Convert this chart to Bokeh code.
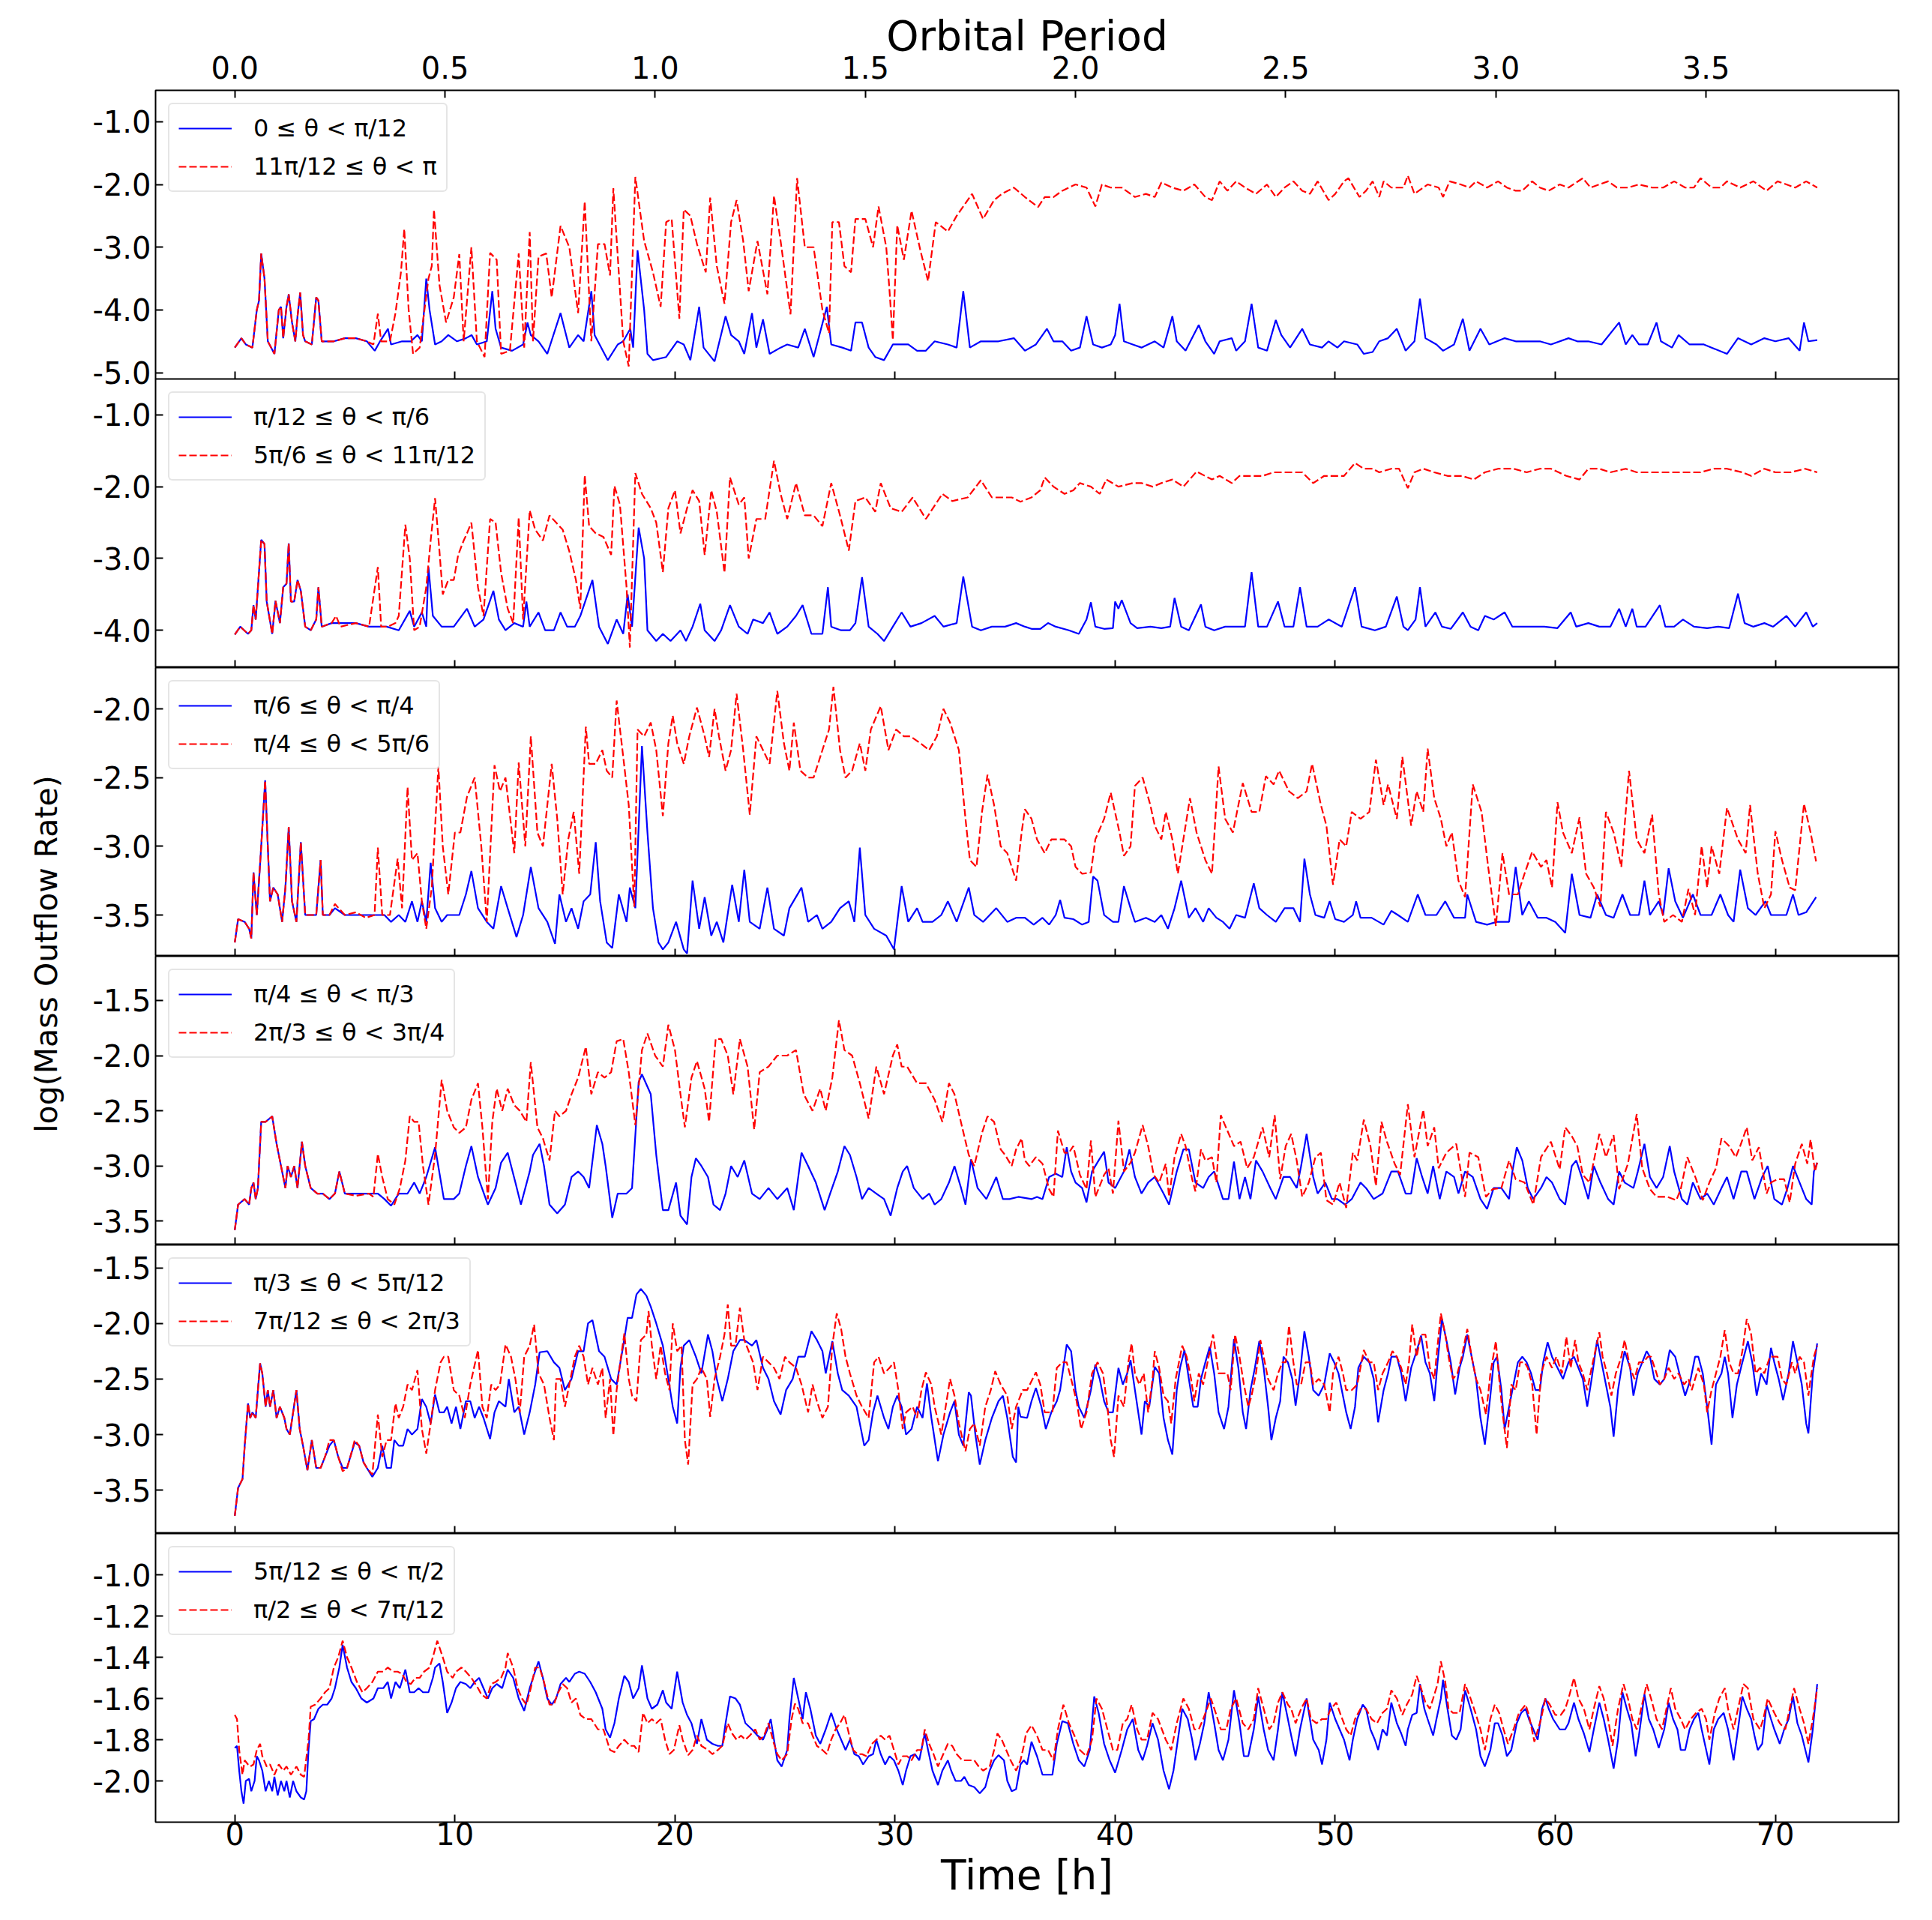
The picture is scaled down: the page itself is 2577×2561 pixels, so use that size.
import math
from bokeh.plotting import figure
from bokeh.models import (Range1d, LinearAxis, FixedTicker, PrintfTickFormatter,
                          Legend, LegendItem)
from bokeh.layouts import row, column
from bokeh.core.properties import value
from bokeh.embed import file_html
from bokeh.resources import INLINE

FONT = "DejaVu Sans"
PERIOD_H = 19.1          # hours per orbital period (top axis)
T_LO, T_HI = -3.6, 75.6  # time axis range [h]

# ---------------- data: (time [h], log10 mass outflow rate) ----------------
P1_BLUE = [(0,-4.6),(0.3,-4.45),(0.5,-4.55),(0.8,-4.6),(1.0,-4.0),(1.1,-3.85),(1.2,-3.1),(1.35,-3.5),(1.5,-4.5),(1.8,-4.7),(2.0,-4.0),(2.1,-3.95),(2.2,-4.45),(2.35,-3.95),(2.45,-3.75),(2.6,-4.2),(2.75,-4.5),(2.85,-4.1),(2.97,-3.72),(3.1,-4.4),(3.2,-4.5),(3.5,-4.55),(3.7,-3.8),(3.8,-3.85),(3.95,-4.5),(4.5,-4.5),(5.0,-4.45),(5.5,-4.45),(6.0,-4.5),(6.36,-4.65),(6.6,-4.5),(6.96,-4.3),(7.1,-4.55),(7.6,-4.5),(8.0,-4.5),(8.3,-4.4),(8.5,-4.5),(8.7,-3.5),(8.85,-4.0),(9.1,-4.55),(9.4,-4.5),(9.7,-4.4),(10.1,-4.5),(10.5,-4.45),(10.76,-4.4),(11.0,-4.55),(11.45,-4.5),(11.7,-3.7),(11.85,-4.3),(12.1,-4.6),(12.6,-4.65),(13.1,-4.55),(13.3,-4.2),(13.45,-4.4),(13.8,-4.5),(14.2,-4.7),(14.8,-4.05),(15.2,-4.6),(15.6,-4.4),(15.85,-4.5),(16.2,-3.7),(16.35,-4.4),(16.95,-4.8),(17.4,-4.55),(17.65,-4.5),(17.97,-4.3),(18.1,-4.6),(18.3,-3.05),(18.6,-4.0),(18.75,-4.7),(19.0,-4.8),(19.6,-4.75),(20.1,-4.5),(20.4,-4.55),(20.7,-4.8),(21.1,-3.95),(21.3,-4.6),(21.8,-4.82),(22.3,-4.1),(22.55,-4.4),(22.9,-4.5),(23.15,-4.7),(23.5,-4.05),(23.7,-4.6),(24.0,-4.15),(24.3,-4.7),(24.8,-4.6),(25.1,-4.55),(25.6,-4.6),(25.9,-4.3),(26.3,-4.75),(26.9,-3.95),(27.1,-4.55),(27.6,-4.6),(28.0,-4.65),(28.2,-4.2),(28.5,-4.2),(28.8,-4.6),(29.1,-4.75),(29.5,-4.8),(29.9,-4.55),(30.6,-4.55),(31.0,-4.65),(31.4,-4.65),(31.8,-4.5),(32.4,-4.55),(32.8,-4.6),(33.1,-3.7),(33.4,-4.6),(33.9,-4.5),(34.7,-4.5),(35.4,-4.45),(35.9,-4.65),(36.4,-4.55),(36.9,-4.3),(37.2,-4.5),(37.6,-4.5),(38.0,-4.65),(38.4,-4.6),(38.7,-4.1),(39.0,-4.55),(39.4,-4.6),(39.8,-4.55),(40.0,-4.4),(40.2,-3.9),(40.4,-4.5),(40.8,-4.55),(41.2,-4.6),(41.8,-4.5),(42.2,-4.6),(42.6,-4.1),(42.8,-4.5),(43.2,-4.65),(43.8,-4.24),(44.1,-4.5),(44.5,-4.7),(44.75,-4.5),(45.3,-4.45),(45.5,-4.65),(45.9,-4.5),(46.2,-3.9),(46.5,-4.6),(46.9,-4.65),(47.3,-4.16),(47.55,-4.4),(47.95,-4.6),(48.5,-4.3),(48.85,-4.55),(49.4,-4.6),(49.7,-4.5),(50.1,-4.6),(50.4,-4.5),(51.0,-4.55),(51.3,-4.7),(51.7,-4.67),(52.0,-4.5),(52.4,-4.45),(52.8,-4.3),(53.2,-4.65),(53.6,-4.5),(53.85,-3.82),(54.1,-4.45),(54.6,-4.55),(54.9,-4.65),(55.4,-4.55),(55.8,-4.14),(56.1,-4.65),(56.6,-4.3),(57.0,-4.55),(57.7,-4.45),(58.2,-4.5),(58.7,-4.5),(59.3,-4.5),(59.8,-4.55),(60.6,-4.45),(61.0,-4.5),(61.5,-4.5),(62.1,-4.55),(62.9,-4.2),(63.2,-4.55),(63.5,-4.4),(63.8,-4.55),(64.2,-4.55),(64.6,-4.2),(64.8,-4.5),(65.3,-4.6),(65.6,-4.4),(66.1,-4.55),(66.75,-4.55),(67.1,-4.6),(67.8,-4.7),(68.3,-4.45),(68.9,-4.55),(69.5,-4.45),(70.0,-4.5),(70.6,-4.45),(71.1,-4.65),(71.3,-4.2),(71.5,-4.5),(71.9,-4.48)]

P1_RED = [(0,-4.6),(0.3,-4.45),(0.5,-4.55),(0.8,-4.6),(1.0,-4.0),(1.1,-3.85),(1.2,-3.1),(1.35,-3.5),(1.5,-4.5),(1.8,-4.7),(2.0,-4.0),(2.1,-3.95),(2.2,-4.45),(2.35,-3.95),(2.45,-3.75),(2.6,-4.2),(2.75,-4.5),(2.85,-4.1),(2.97,-3.72),(3.1,-4.4),(3.2,-4.5),(3.5,-4.55),(3.7,-3.8),(3.8,-3.85),(3.95,-4.5),(4.5,-4.5),(5.0,-4.45),(5.5,-4.45),(6.0,-4.5),(6.3,-4.55),(6.5,-4.06),(6.65,-4.5),(7.05,-4.5),(7.3,-4.05),(7.55,-3.4),(7.7,-2.71),(7.9,-4.0),(8.1,-4.7),(8.4,-4.6),(8.8,-3.5),(8.95,-3.3),(9.05,-2.4),(9.3,-3.6),(9.6,-4.2),(9.95,-3.8),(10.2,-3.11),(10.4,-4.5),(10.75,-3.0),(11.0,-4.5),(11.35,-4.75),(11.6,-3.09),(11.9,-3.2),(12.1,-4.7),(12.5,-4.65),(12.9,-3.1),(13.15,-4.6),(13.4,-2.76),(13.55,-4.5),(13.8,-3.15),(14.15,-3.1),(14.4,-3.8),(14.8,-2.66),(15.2,-3.0),(15.6,-4.05),(15.9,-2.27),(16.2,-4.5),(16.5,-2.95),(16.8,-2.95),(17.05,-3.45),(17.2,-2.06),(17.65,-4.5),(17.9,-4.9),(18.2,-1.88),(18.6,-2.9),(19.0,-3.4),(19.35,-3.95),(19.6,-2.6),(19.85,-2.55),(20.2,-4.14),(20.4,-2.4),(20.7,-2.5),(21.0,-2.95),(21.4,-3.4),(21.6,-2.21),(21.9,-3.3),(22.25,-3.9),(22.55,-2.6),(22.8,-2.25),(23.1,-2.9),(23.35,-3.7),(23.75,-2.9),(24.2,-3.75),(24.5,-2.18),(24.8,-2.9),(25.25,-4.07),(25.55,-1.9),(25.9,-3.0),(26.3,-3.0),(26.7,-4.0),(27.0,-4.37),(27.15,-2.6),(27.45,-2.6),(27.7,-3.3),(28.0,-3.4),(28.2,-2.55),(28.65,-2.55),(29.0,-3.0),(29.25,-2.35),(29.6,-3.0),(29.75,-3.7),(29.9,-4.48),(30.1,-2.65),(30.4,-3.2),(30.75,-2.42),(31.15,-3.05),(31.5,-3.54),(31.85,-2.6),(32.4,-2.75),(32.8,-2.5),(33.5,-2.15),(34.0,-2.55),(34.5,-2.25),(34.85,-2.15),(35.4,-2.05),(35.9,-2.2),(36.5,-2.36),(36.8,-2.2),(37.2,-2.2),(37.6,-2.1),(38.2,-2.0),(38.7,-2.05),(39.1,-2.35),(39.4,-2.0),(39.8,-2.05),(40.3,-2.05),(40.9,-2.2),(41.4,-2.15),(41.8,-2.2),(42.1,-1.97),(42.6,-2.05),(43.1,-2.1),(43.6,-2.0),(44.1,-2.2),(44.4,-2.25),(44.75,-1.95),(45.1,-2.1),(45.5,-1.95),(45.9,-2.05),(46.4,-2.15),(46.9,-2.0),(47.3,-2.2),(47.7,-2.05),(48.1,-1.95),(48.5,-2.1),(48.85,-2.15),(49.2,-1.95),(49.7,-2.25),(50.0,-2.15),(50.4,-1.95),(50.6,-1.9),(51.1,-2.2),(51.4,-2.1),(51.7,-1.95),(52.0,-2.2),(52.2,-1.95),(52.55,-2.05),(53.1,-2.05),(53.3,-1.86),(53.6,-2.15),(54.2,-2.0),(54.7,-2.05),(54.9,-2.2),(55.2,-1.95),(55.7,-2.0),(56.1,-2.05),(56.4,-1.95),(56.9,-2.05),(57.4,-1.95),(57.8,-2.05),(58.2,-2.1),(58.5,-2.1),(58.95,-1.95),(59.3,-2.05),(59.7,-2.1),(60.2,-2.0),(60.6,-2.05),(61.25,-1.9),(61.6,-2.05),(62.4,-1.95),(62.8,-2.05),(63.3,-2.05),(63.8,-2.0),(64.4,-2.05),(64.9,-2.05),(65.4,-1.95),(65.9,-2.05),(66.3,-2.05),(66.6,-1.9),(67.1,-2.05),(67.5,-2.05),(67.8,-1.95),(68.4,-2.05),(69.0,-1.95),(69.6,-2.1),(70.1,-1.95),(70.5,-2.0),(70.9,-2.05),(71.4,-1.95),(71.9,-2.05)]

P2_BLUE = [(0,-4.06),(0.25,-3.95),(0.6,-4.05),(0.75,-4.0),(0.85,-3.65),(0.95,-3.85),(1.2,-2.74),(1.35,-2.8),(1.45,-3.6),(1.7,-4.05),(1.85,-3.59),(2.05,-3.9),(2.2,-3.4),(2.35,-3.35),(2.45,-2.79),(2.55,-3.6),(2.7,-3.6),(2.85,-3.3),(3.0,-3.45),(3.2,-3.95),(3.45,-4.0),(3.7,-3.85),(3.8,-3.4),(3.95,-3.95),(4.4,-3.9),(5.0,-3.9),(5.5,-3.9),(6.1,-3.95),(6.6,-3.95),(6.9,-3.95),(7.45,-4.0),(7.95,-3.73),(8.15,-3.95),(8.5,-3.75),(8.7,-3.95),(8.8,-3.12),(9.0,-3.8),(9.4,-3.95),(9.95,-3.95),(10.55,-3.7),(10.9,-3.95),(11.3,-3.85),(11.75,-3.45),(12.0,-3.85),(12.3,-4.0),(12.7,-3.9),(13.1,-3.95),(13.25,-3.6),(13.4,-3.95),(13.8,-3.75),(14.1,-4.0),(14.5,-4.0),(14.8,-3.75),(15.1,-3.95),(15.45,-3.95),(15.7,-3.8),(16.25,-3.3),(16.55,-3.95),(16.95,-4.19),(17.35,-3.85),(17.65,-4.05),(17.85,-3.5),(18.05,-3.95),(18.35,-2.57),(18.6,-3.0),(18.75,-4.0),(19.15,-4.15),(19.45,-4.05),(19.8,-4.15),(20.25,-4.0),(20.5,-4.15),(20.8,-3.95),(21.15,-3.63),(21.35,-4.0),(21.8,-4.15),(22.1,-4.0),(22.5,-3.65),(22.9,-3.95),(23.3,-4.05),(23.55,-3.85),(24.0,-3.9),(24.3,-3.75),(24.65,-4.05),(25.1,-3.95),(25.5,-3.8),(25.8,-3.65),(26.2,-4.05),(26.7,-4.05),(26.95,-3.4),(27.1,-3.95),(27.55,-4.0),(27.95,-4.0),(28.2,-3.9),(28.5,-3.26),(28.8,-3.95),(29.2,-4.05),(29.5,-4.15),(29.9,-3.95),(30.3,-3.75),(30.7,-3.95),(31.2,-3.9),(31.8,-3.8),(32.2,-3.95),(32.8,-3.9),(33.1,-3.25),(33.5,-3.95),(33.9,-4.0),(34.4,-3.95),(35.0,-3.95),(35.5,-3.9),(35.9,-3.95),(36.2,-3.98),(36.6,-3.98),(36.95,-3.9),(37.3,-3.95),(37.9,-4.0),(38.35,-4.05),(38.7,-3.85),(38.9,-3.61),(39.1,-3.95),(39.5,-3.98),(39.9,-3.97),(40.0,-3.6),(40.15,-3.7),(40.3,-3.58),(40.7,-3.9),(41.0,-3.97),(41.6,-3.95),(42.1,-3.97),(42.5,-3.95),(42.7,-3.55),(43.0,-3.95),(43.35,-4.0),(43.9,-3.64),(44.1,-3.95),(44.5,-4.0),(45.0,-3.95),(45.5,-3.95),(45.9,-3.95),(46.2,-3.19),(46.5,-3.95),(46.9,-3.95),(47.4,-3.6),(47.7,-3.95),(48.1,-3.95),(48.4,-3.4),(48.7,-3.95),(49.2,-3.95),(49.7,-3.85),(50.3,-3.95),(50.9,-3.4),(51.2,-3.95),(51.8,-4.0),(52.3,-3.95),(52.8,-3.53),(53.1,-3.95),(53.3,-4.0),(53.65,-3.85),(53.85,-3.4),(54.1,-3.95),(54.55,-3.75),(54.85,-3.95),(55.25,-3.98),(55.8,-3.75),(56.15,-3.95),(56.5,-4.0),(56.8,-3.8),(57.2,-3.85),(57.7,-3.75),(58.05,-3.95),(58.7,-3.95),(59.5,-3.95),(60.1,-3.97),(60.7,-3.75),(60.95,-3.95),(61.5,-3.9),(62.0,-3.95),(62.5,-3.95),(62.9,-3.7),(63.2,-3.95),(63.5,-3.7),(63.7,-3.95),(64.1,-3.95),(64.75,-3.65),(65.0,-3.95),(65.4,-3.95),(65.8,-3.85),(66.3,-3.95),(66.9,-3.97),(67.4,-3.95),(67.9,-3.97),(68.3,-3.49),(68.6,-3.9),(69.0,-3.95),(69.5,-3.9),(69.9,-3.95),(70.5,-3.8),(70.9,-3.95),(71.4,-3.75),(71.7,-3.95),(71.9,-3.9)]

P2_RED = [(0,-4.06),(0.25,-3.95),(0.6,-4.05),(0.75,-4.0),(0.85,-3.65),(0.95,-3.85),(1.2,-2.74),(1.35,-2.8),(1.45,-3.6),(1.7,-4.05),(1.85,-3.59),(2.05,-3.9),(2.2,-3.4),(2.35,-3.35),(2.45,-2.79),(2.55,-3.6),(2.7,-3.6),(2.85,-3.3),(3.0,-3.45),(3.2,-3.95),(3.45,-4.0),(3.7,-3.85),(3.8,-3.4),(3.95,-3.95),(4.4,-3.9),(4.6,-3.8),(4.8,-3.95),(5.5,-3.9),(6.1,-3.95),(6.5,-3.12),(6.65,-3.95),(6.95,-3.95),(7.3,-3.9),(7.45,-3.8),(7.75,-2.53),(7.95,-3.0),(8.15,-4.0),(8.4,-3.95),(8.7,-3.4),(8.9,-2.75),(9.1,-2.16),(9.3,-2.9),(9.45,-3.5),(9.7,-3.3),(9.95,-3.3),(10.15,-2.95),(10.4,-2.75),(10.55,-2.65),(10.75,-2.5),(11.05,-3.4),(11.3,-3.8),(11.6,-2.45),(11.85,-2.5),(12.1,-3.2),(12.4,-3.7),(12.65,-3.9),(12.9,-2.43),(13.1,-3.85),(13.4,-2.33),(13.65,-2.6),(14.0,-2.75),(14.3,-2.4),(14.6,-2.5),(14.9,-2.6),(15.2,-2.9),(15.5,-3.3),(15.7,-3.7),(15.9,-1.84),(16.1,-2.55),(16.4,-2.65),(16.75,-2.7),(17.1,-2.95),(17.25,-1.99),(17.5,-2.25),(17.8,-3.4),(17.95,-4.24),(18.2,-1.81),(18.5,-2.1),(18.9,-2.3),(19.15,-2.5),(19.45,-3.19),(19.7,-2.3),(20.0,-2.05),(20.25,-2.65),(20.55,-2.3),(20.8,-2.05),(21.1,-2.2),(21.35,-2.95),(21.65,-2.05),(21.9,-2.35),(22.25,-3.2),(22.5,-1.87),(22.9,-2.25),(23.15,-2.15),(23.35,-3.0),(23.7,-2.45),(24.1,-2.45),(24.5,-1.64),(24.8,-2.1),(25.1,-2.45),(25.5,-1.95),(25.9,-2.4),(26.3,-2.4),(26.7,-2.55),(27.1,-1.95),(27.5,-2.4),(27.9,-2.89),(28.2,-2.2),(28.65,-2.15),(29.1,-2.35),(29.35,-1.95),(29.8,-2.3),(30.3,-2.35),(30.8,-2.15),(31.4,-2.45),(32.15,-2.1),(32.6,-2.2),(33.3,-2.15),(33.9,-1.91),(34.4,-2.15),(35.3,-2.15),(35.7,-2.21),(36.2,-2.15),(36.6,-2.05),(36.8,-1.87),(37.2,-2.0),(37.7,-2.1),(38.1,-2.05),(38.4,-1.95),(38.9,-2.0),(39.3,-2.1),(39.6,-1.9),(40.15,-2.0),(40.8,-1.95),(41.2,-1.95),(41.7,-2.0),(42.1,-1.95),(42.6,-1.9),(43.1,-2.0),(43.7,-1.79),(44.4,-1.9),(44.75,-1.85),(45.3,-1.95),(45.65,-1.85),(46.2,-1.85),(46.7,-1.85),(47.2,-1.8),(47.7,-1.8),(48.1,-1.8),(48.5,-1.8),(49.0,-1.95),(49.5,-1.85),(50.0,-1.85),(50.4,-1.85),(50.9,-1.67),(51.3,-1.75),(51.7,-1.75),(52.0,-1.8),(52.55,-1.75),(52.9,-1.75),(53.3,-2.02),(53.6,-1.8),(54.0,-1.75),(54.5,-1.8),(55.1,-1.85),(55.75,-1.85),(56.3,-1.9),(56.8,-1.8),(57.4,-1.75),(58.1,-1.75),(58.7,-1.8),(59.3,-1.75),(59.8,-1.75),(60.5,-1.85),(61.1,-1.9),(61.5,-1.75),(62.0,-1.75),(62.5,-1.8),(63.2,-1.75),(63.7,-1.8),(64.3,-1.8),(65.1,-1.8),(65.85,-1.8),(66.6,-1.8),(67.2,-1.75),(67.8,-1.75),(68.5,-1.8),(68.9,-1.85),(69.5,-1.75),(70.0,-1.8),(70.7,-1.8),(71.35,-1.75),(71.9,-1.8)]

P3_BLUE = [(0,-3.70),(0.15,-3.53),(0.45,-3.55),(0.65,-3.6),(0.75,-3.67),(0.85,-3.19),(1.0,-3.5),(1.2,-3.0),(1.38,-2.52),(1.5,-3.0),(1.6,-3.4),(1.75,-3.3),(1.95,-3.35),(2.15,-3.55),(2.3,-3.3),(2.45,-2.86),(2.6,-3.4),(2.8,-3.55),(3.0,-2.97),(3.2,-3.5),(3.45,-3.5),(3.7,-3.5),(3.9,-3.1),(4.0,-3.5),(4.3,-3.5),(4.55,-3.45),(5.0,-3.5),(5.5,-3.5),(5.95,-3.5),(6.35,-3.5),(6.8,-3.5),(7.1,-3.55),(7.45,-3.5),(7.75,-3.55),(8.05,-3.4),(8.3,-3.55),(8.5,-3.4),(8.7,-3.55),(8.9,-3.12),(9.1,-3.45),(9.4,-3.55),(9.65,-3.5),(10.2,-3.5),(10.5,-3.35),(10.75,-3.18),(11.05,-3.45),(11.45,-3.55),(11.75,-3.6),(12.1,-3.29),(12.4,-3.45),(12.8,-3.66),(13.1,-3.5),(13.45,-3.15),(13.8,-3.45),(14.2,-3.55),(14.55,-3.71),(14.75,-3.35),(15.05,-3.55),(15.3,-3.45),(15.6,-3.6),(15.85,-3.4),(16.15,-3.35),(16.4,-2.97),(16.6,-3.4),(16.9,-3.7),(17.15,-3.74),(17.45,-3.35),(17.8,-3.55),(17.95,-3.3),(18.2,-3.45),(18.5,-2.27),(18.75,-2.9),(19.0,-3.45),(19.25,-3.7),(19.45,-3.75),(19.7,-3.7),(20.05,-3.55),(20.4,-3.75),(20.55,-3.78),(20.8,-3.25),(21.1,-3.6),(21.35,-3.37),(21.65,-3.65),(21.9,-3.55),(22.2,-3.7),(22.6,-3.28),(22.9,-3.55),(23.15,-3.17),(23.4,-3.55),(23.85,-3.6),(24.2,-3.3),(24.5,-3.6),(24.95,-3.65),(25.2,-3.45),(25.75,-3.3),(26.05,-3.55),(26.45,-3.5),(26.7,-3.6),(27.1,-3.55),(27.5,-3.45),(27.9,-3.4),(28.15,-3.55),(28.4,-3.01),(28.65,-3.5),(29.05,-3.6),(29.6,-3.65),(29.95,-3.75),(30.3,-3.29),(30.6,-3.55),(31.0,-3.45),(31.25,-3.55),(31.7,-3.55),(32.1,-3.5),(32.4,-3.4),(32.8,-3.55),(33.35,-3.3),(33.6,-3.5),(34.0,-3.55),(34.6,-3.45),(35.1,-3.55),(35.5,-3.52),(35.9,-3.52),(36.3,-3.57),(36.7,-3.52),(37.0,-3.57),(37.3,-3.5),(37.5,-3.39),(37.7,-3.52),(38.1,-3.53),(38.5,-3.57),(38.8,-3.55),(39.0,-3.22),(39.2,-3.25),(39.5,-3.5),(39.9,-3.55),(40.15,-3.55),(40.4,-3.29),(40.7,-3.45),(40.9,-3.55),(41.4,-3.52),(41.8,-3.55),(42.1,-3.5),(42.4,-3.6),(42.7,-3.45),(43.0,-3.25),(43.35,-3.52),(43.65,-3.45),(44.0,-3.55),(44.25,-3.45),(44.6,-3.52),(44.9,-3.55),(45.2,-3.6),(45.5,-3.5),(45.9,-3.52),(46.3,-3.27),(46.55,-3.45),(46.9,-3.5),(47.3,-3.55),(47.7,-3.45),(48.1,-3.45),(48.4,-3.55),(48.6,-3.09),(48.85,-3.35),(49.1,-3.5),(49.5,-3.52),(49.75,-3.4),(50.0,-3.53),(50.4,-3.55),(50.8,-3.5),(50.95,-3.4),(51.15,-3.52),(51.65,-3.52),(52.2,-3.57),(52.55,-3.47),(52.85,-3.5),(53.3,-3.55),(53.75,-3.35),(54.1,-3.5),(54.6,-3.5),(55.0,-3.4),(55.4,-3.52),(55.9,-3.52),(56.0,-3.35),(56.4,-3.55),(56.9,-3.57),(57.35,-3.55),(57.9,-3.55),(58.2,-3.15),(58.5,-3.5),(58.8,-3.4),(59.2,-3.52),(59.6,-3.52),(60.0,-3.55),(60.45,-3.63),(60.75,-3.2),(61.1,-3.5),(61.6,-3.52),(61.9,-3.35),(62.3,-3.5),(62.65,-3.52),(63.05,-3.35),(63.4,-3.5),(63.8,-3.5),(64.05,-3.25),(64.3,-3.5),(64.7,-3.4),(64.9,-3.5),(65.15,-3.16),(65.45,-3.4),(65.8,-3.52),(66.25,-3.35),(66.6,-3.5),(67.1,-3.5),(67.5,-3.35),(67.85,-3.5),(68.1,-3.55),(68.4,-3.17),(68.75,-3.45),(69.1,-3.5),(69.55,-3.4),(69.8,-3.5),(70.2,-3.5),(70.5,-3.5),(70.8,-3.35),(71.05,-3.5),(71.4,-3.48),(71.85,-3.37)]

P3_RED = [(0,-3.70),(0.15,-3.53),(0.45,-3.55),(0.65,-3.6),(0.75,-3.67),(0.85,-3.19),(1.0,-3.5),(1.2,-3.0),(1.38,-2.52),(1.5,-3.0),(1.6,-3.4),(1.75,-3.3),(1.95,-3.35),(2.15,-3.55),(2.3,-3.3),(2.45,-2.86),(2.6,-3.4),(2.8,-3.55),(3.0,-2.97),(3.2,-3.5),(3.45,-3.5),(3.7,-3.5),(3.9,-3.1),(4.0,-3.5),(4.3,-3.5),(4.55,-3.42),(5.0,-3.5),(5.5,-3.48),(5.95,-3.52),(6.35,-3.5),(6.5,-3.01),(6.7,-3.5),(7.05,-3.5),(7.4,-3.09),(7.6,-3.45),(7.85,-2.57),(8.05,-3.1),(8.3,-3.05),(8.5,-3.4),(8.7,-3.6),(8.95,-3.3),(9.25,-2.42),(9.45,-3.0),(9.7,-3.35),(10.0,-2.9),(10.25,-2.9),(10.55,-2.64),(10.9,-2.5),(11.2,-3.0),(11.45,-3.55),(11.8,-2.41),(12.05,-2.6),(12.3,-2.5),(12.7,-3.05),(12.9,-2.39),(13.2,-3.0),(13.45,-2.2),(13.75,-2.9),(14.0,-3.0),(14.4,-2.4),(14.65,-2.8),(14.9,-3.35),(15.15,-2.95),(15.4,-2.75),(15.65,-3.2),(15.95,-2.13),(16.1,-2.4),(16.4,-2.4),(16.7,-2.3),(16.9,-2.45),(17.15,-2.5),(17.35,-1.94),(17.65,-2.35),(17.9,-2.7),(18.15,-3.44),(18.3,-2.15),(18.6,-2.2),(18.9,-2.1),(19.15,-2.3),(19.45,-2.78),(19.7,-2.25),(19.9,-2.05),(20.1,-2.25),(20.4,-2.4),(20.65,-2.2),(21.0,-1.99),(21.35,-2.2),(21.55,-2.35),(21.8,-2.0),(22.0,-2.2),(22.3,-2.45),(22.55,-2.3),(22.8,-1.89),(23.1,-2.3),(23.4,-2.77),(23.7,-2.2),(24.0,-2.3),(24.3,-2.4),(24.65,-1.87),(24.95,-2.25),(25.2,-2.45),(25.4,-2.1),(25.7,-2.45),(26.05,-2.5),(26.3,-2.5),(26.7,-2.3),(27.0,-2.15),(27.2,-1.84),(27.5,-2.3),(27.75,-2.5),(28.05,-2.45),(28.4,-2.25),(28.65,-2.45),(28.9,-2.15),(29.35,-1.98),(29.7,-2.3),(30.05,-2.15),(30.4,-2.2),(30.7,-2.2),(31.15,-2.25),(31.55,-2.3),(31.9,-2.2),(32.2,-2.0),(32.5,-2.1),(32.9,-2.3),(33.2,-2.8),(33.4,-3.1),(33.7,-3.15),(33.95,-2.75),(34.2,-2.48),(34.5,-2.7),(34.8,-3.0),(35.1,-3.05),(35.5,-3.25),(35.75,-2.9),(35.9,-2.73),(36.2,-2.8),(36.45,-2.95),(36.8,-3.05),(37.1,-2.95),(37.3,-2.95),(37.7,-2.95),(38.0,-3.0),(38.2,-3.15),(38.5,-3.2),(38.9,-3.19),(39.1,-2.95),(39.5,-2.8),(39.8,-2.61),(40.2,-2.9),(40.4,-3.07),(40.7,-3.0),(40.9,-2.56),(41.25,-2.5),(41.6,-2.7),(41.8,-2.85),(42.1,-2.95),(42.3,-2.75),(42.6,-2.95),(42.85,-3.2),(43.1,-2.95),(43.4,-2.65),(43.7,-2.9),(44.1,-3.1),(44.4,-3.2),(44.7,-2.42),(45.0,-2.8),(45.35,-2.9),(45.8,-2.54),(46.2,-2.75),(46.55,-2.75),(46.85,-2.49),(47.2,-2.55),(47.45,-2.45),(47.9,-2.6),(48.3,-2.65),(48.7,-2.6),(48.95,-2.4),(49.35,-2.7),(49.6,-2.85),(49.9,-3.28),(50.2,-2.95),(50.5,-3.0),(50.75,-2.75),(51.15,-2.8),(51.55,-2.75),(51.85,-2.37),(52.2,-2.7),(52.4,-2.55),(52.8,-2.8),(53.05,-2.35),(53.45,-2.85),(53.7,-2.6),(54.0,-2.75),(54.2,-2.29),(54.5,-2.65),(54.8,-2.8),(55.05,-3.0),(55.3,-2.9),(55.6,-3.25),(55.9,-3.37),(56.25,-2.55),(56.65,-2.75),(56.95,-3.15),(57.3,-3.58),(57.6,-3.05),(57.9,-3.35),(58.3,-3.35),(58.6,-3.2),(58.95,-3.04),(59.35,-3.15),(59.6,-3.1),(59.85,-3.3),(60.1,-2.68),(60.35,-2.9),(60.75,-3.05),(61.1,-2.79),(61.4,-3.2),(61.75,-3.3),(62.05,-3.44),(62.3,-2.75),(62.65,-2.9),(63.0,-3.15),(63.35,-2.45),(63.7,-2.95),(64.05,-3.05),(64.4,-2.77),(64.7,-3.35),(64.95,-3.55),(65.35,-3.5),(65.75,-3.55),(66.05,-3.31),(66.35,-3.5),(66.65,-3.0),(66.9,-3.3),(67.1,-3.0),(67.45,-3.2),(67.8,-2.72),(68.3,-2.95),(68.65,-3.05),(68.85,-2.7),(69.2,-3.2),(69.5,-3.45),(69.8,-3.35),(70.0,-2.89),(70.3,-3.1),(70.65,-3.3),(70.9,-3.32),(71.3,-2.69),(71.6,-2.9),(71.85,-3.11)]

P4_BLUE = [(0,-3.58),(0.15,-3.35),(0.45,-3.3),(0.65,-3.35),(0.75,-3.2),(0.85,-3.15),(0.95,-3.3),(1.05,-3.2),(1.2,-2.6),(1.4,-2.6),(1.7,-2.55),(1.9,-2.8),(2.1,-3.0),(2.3,-3.2),(2.4,-3.0),(2.55,-3.1),(2.7,-3.0),(2.85,-3.2),(3.05,-2.78),(3.2,-3.0),(3.45,-3.2),(3.75,-3.25),(4.0,-3.25),(4.3,-3.3),(4.55,-3.25),(4.75,-3.05),(5.0,-3.25),(5.5,-3.25),(6.1,-3.25),(6.5,-3.25),(6.8,-3.3),(7.1,-3.36),(7.45,-3.25),(7.85,-3.25),(8.15,-3.15),(8.4,-3.25),(8.7,-3.1),(9.1,-2.83),(9.5,-3.3),(9.95,-3.3),(10.2,-3.25),(10.5,-3.0),(10.75,-2.82),(11.05,-3.1),(11.5,-3.35),(11.85,-3.2),(12.1,-2.97),(12.4,-2.88),(12.75,-3.15),(13.0,-3.35),(13.4,-3.05),(13.55,-2.9),(13.85,-2.8),(14.05,-3.0),(14.3,-3.35),(14.65,-3.43),(15.0,-3.35),(15.3,-3.1),(15.6,-3.05),(15.85,-3.1),(16.1,-3.2),(16.45,-2.63),(16.7,-2.8),(16.85,-3.0),(17.15,-3.47),(17.4,-3.25),(17.8,-3.25),(18.05,-3.2),(18.35,-2.24),(18.5,-2.17),(18.9,-2.35),(19.15,-2.9),(19.45,-3.4),(19.7,-3.4),(20.05,-3.15),(20.25,-3.45),(20.55,-3.53),(20.75,-3.1),(20.95,-2.93),(21.2,-3.0),(21.5,-3.1),(21.75,-3.35),(22.05,-3.4),(22.3,-3.25),(22.55,-3.0),(22.85,-3.1),(23.15,-2.95),(23.5,-3.25),(23.85,-3.3),(24.25,-3.2),(24.65,-3.3),(25.1,-3.2),(25.4,-3.4),(25.75,-2.88),(26.05,-3.0),(26.4,-3.15),(26.8,-3.4),(27.05,-3.25),(27.4,-3.05),(27.7,-2.82),(27.95,-2.9),(28.25,-3.1),(28.5,-3.3),(28.8,-3.2),(29.15,-3.25),(29.5,-3.3),(29.8,-3.45),(30.1,-3.2),(30.35,-3.05),(30.55,-3.0),(30.85,-3.2),(31.25,-3.3),(31.55,-3.25),(31.8,-3.35),(32.1,-3.3),(32.45,-3.15),(32.7,-3.0),(33.0,-3.2),(33.2,-3.35),(33.45,-2.94),(33.75,-3.2),(34.15,-3.3),(34.6,-3.1),(34.9,-3.3),(35.2,-3.3),(35.6,-3.28),(36.2,-3.3),(36.45,-3.28),(36.7,-3.3),(37.0,-3.1),(37.3,-3.07),(37.6,-3.1),(37.8,-2.83),(38.0,-3.05),(38.2,-3.15),(38.5,-3.2),(38.7,-3.33),(38.95,-3.05),(39.25,-2.95),(39.5,-2.87),(39.7,-3.15),(40.0,-3.2),(40.4,-3.05),(40.65,-2.85),(40.9,-3.1),(41.2,-3.25),(41.5,-3.15),(41.8,-3.1),(42.2,-3.25),(42.45,-3.35),(42.8,-3.05),(43.1,-2.85),(43.35,-2.85),(43.65,-3.15),(44.0,-3.2),(44.25,-3.1),(44.5,-3.05),(44.9,-3.3),(45.15,-3.3),(45.4,-2.96),(45.65,-3.3),(45.9,-3.1),(46.15,-3.3),(46.4,-2.95),(46.7,-3.05),(47.05,-3.2),(47.3,-3.3),(47.65,-3.1),(47.95,-3.1),(48.25,-3.2),(48.45,-3.0),(48.7,-2.71),(49.0,-3.1),(49.2,-3.25),(49.55,-3.15),(49.85,-3.3),(50.1,-3.3),(50.45,-3.35),(50.75,-3.3),(51.15,-3.15),(51.4,-3.2),(51.75,-3.3),(52.15,-3.25),(52.55,-3.05),(52.85,-3.05),(53.2,-3.25),(53.45,-3.25),(53.7,-2.93),(53.95,-3.1),(54.2,-3.25),(54.45,-3.0),(54.75,-3.3),(55.05,-3.05),(55.4,-3.1),(55.6,-3.25),(55.9,-3.05),(56.25,-3.1),(56.6,-3.3),(56.9,-3.39),(57.2,-3.2),(57.55,-3.2),(57.9,-3.3),(58.05,-3.05),(58.25,-2.83),(58.5,-2.95),(58.75,-3.2),(59.0,-3.3),(59.35,-3.2),(59.6,-3.1),(59.85,-3.15),(60.2,-3.3),(60.45,-3.35),(60.75,-3.0),(60.95,-2.95),(61.2,-3.1),(61.5,-3.3),(61.75,-3.0),(62.05,-3.15),(62.4,-3.3),(62.65,-3.35),(62.9,-3.05),(63.15,-3.15),(63.55,-3.2),(63.75,-3.05),(64.05,-2.8),(64.3,-3.1),(64.6,-3.2),(64.9,-3.1),(65.2,-2.82),(65.4,-3.05),(65.75,-3.3),(66.0,-3.35),(66.25,-3.15),(66.6,-3.3),(66.9,-3.25),(67.2,-3.35),(67.55,-3.2),(67.8,-3.1),(68.1,-3.3),(68.45,-3.05),(68.7,-3.05),(69.05,-3.3),(69.4,-3.1),(69.65,-3.0),(69.95,-3.3),(70.3,-3.35),(70.55,-3.2),(70.8,-3.0),(71.1,-3.15),(71.4,-3.3),(71.65,-3.35),(71.75,-3.05),(71.9,-2.97)]

P4_RED = [(0,-3.58),(0.15,-3.35),(0.45,-3.3),(0.65,-3.35),(0.75,-3.2),(0.85,-3.15),(0.95,-3.3),(1.05,-3.2),(1.2,-2.6),(1.4,-2.6),(1.7,-2.55),(1.9,-2.8),(2.1,-3.0),(2.3,-3.2),(2.4,-3.0),(2.55,-3.1),(2.7,-3.0),(2.85,-3.2),(3.05,-2.78),(3.2,-3.0),(3.45,-3.2),(3.75,-3.25),(4.0,-3.25),(4.3,-3.3),(4.55,-3.25),(4.75,-3.05),(5.0,-3.25),(5.5,-3.27),(6.1,-3.25),(6.3,-3.28),(6.5,-2.89),(6.7,-3.1),(6.95,-3.3),(7.25,-3.35),(7.5,-3.2),(7.75,-2.95),(7.95,-2.55),(8.15,-2.6),(8.35,-2.6),(8.55,-3.0),(8.8,-3.35),(9.1,-2.9),(9.4,-2.22),(9.65,-2.5),(9.95,-2.65),(10.2,-2.7),(10.5,-2.65),(10.75,-2.4),(11.05,-2.25),(11.25,-2.65),(11.5,-3.3),(11.7,-2.6),(11.9,-2.3),(12.15,-2.5),(12.4,-2.3),(12.7,-2.45),(12.95,-2.5),(13.25,-2.6),(13.45,-2.06),(13.75,-2.65),(14.0,-2.75),(14.3,-2.95),(14.55,-2.5),(14.75,-2.55),(15.05,-2.5),(15.3,-2.35),(15.6,-2.2),(15.95,-1.92),(16.2,-2.35),(16.5,-2.15),(16.8,-2.2),(17.1,-2.15),(17.35,-1.87),(17.65,-1.85),(17.9,-2.15),(18.2,-2.63),(18.5,-1.95),(18.75,-1.8),(19.1,-2.0),(19.45,-2.1),(19.7,-1.72),(20.0,-1.95),(20.25,-2.35),(20.45,-2.65),(20.75,-2.2),(21.0,-2.05),(21.35,-2.3),(21.55,-2.6),(21.85,-1.85),(22.1,-1.85),(22.4,-2.0),(22.65,-2.35),(22.95,-1.85),(23.3,-2.1),(23.6,-2.67),(23.85,-2.15),(24.25,-2.1),(24.65,-2.0),(25.1,-2.0),(25.5,-1.95),(25.85,-2.35),(26.25,-2.5),(26.6,-2.3),(26.85,-2.5),(27.15,-2.2),(27.45,-1.68),(27.7,-1.95),(28.05,-2.0),(28.4,-2.25),(28.8,-2.57),(29.15,-2.1),(29.5,-2.35),(29.9,-2.0),(30.1,-1.9),(30.3,-2.1),(30.55,-2.1),(31.0,-2.25),(31.4,-2.25),(31.8,-2.4),(32.15,-2.6),(32.45,-2.25),(32.7,-2.35),(33.05,-2.65),(33.35,-2.9),(33.6,-3.0),(33.95,-2.7),(34.2,-2.55),(34.5,-2.6),(34.8,-2.85),(35.0,-2.9),(35.3,-3.0),(35.5,-2.85),(35.75,-2.75),(35.9,-2.95),(36.1,-3.0),(36.4,-2.92),(36.7,-2.98),(37.0,-3.21),(37.2,-3.28),(37.4,-2.68),(37.7,-2.88),(37.9,-2.88),(38.1,-2.82),(38.4,-3.08),(38.7,-3.21),(38.9,-2.77),(39.1,-3.28),(39.5,-3.08),(39.7,-3.02),(39.9,-3.25),(40.15,-2.59),(40.4,-3.05),(40.7,-2.97),(40.9,-2.88),(41.25,-2.63),(41.5,-2.82),(41.75,-3.08),(42.0,-3.15),(42.3,-2.98),(42.45,-3.28),(42.7,-2.92),(43.0,-2.71),(43.2,-2.82),(43.5,-3.12),(43.65,-3.23),(43.9,-2.85),(44.1,-2.95),(44.4,-2.92),(44.6,-3.15),(44.8,-2.54),(45.1,-2.68),(45.4,-2.82),(45.7,-2.78),(46.0,-3.02),(46.3,-2.92),(46.7,-2.65),(47.0,-2.92),(47.25,-2.54),(47.5,-3.12),(47.75,-2.82),(48.0,-2.71),(48.25,-2.95),(48.5,-3.28),(48.8,-3.15),(49.1,-2.92),(49.35,-2.88),(49.6,-3.31),(49.9,-3.35),(50.2,-3.15),(50.5,-3.38),(50.8,-2.88),(51.0,-2.95),(51.3,-2.58),(51.6,-2.82),(51.85,-3.18),(52.1,-2.6),(52.35,-2.78),(52.7,-2.98),(52.95,-3.08),(53.3,-2.44),(53.6,-2.92),(54.0,-2.49),(54.2,-2.82),(54.5,-2.65),(54.7,-3.02),(55.05,-2.88),(55.5,-2.8),(55.9,-3.28),(56.1,-2.88),(56.5,-2.92),(56.85,-3.28),(57.15,-3.21),(57.55,-3.2),(57.9,-2.95),(58.2,-3.12),(58.6,-3.15),(59.0,-3.35),(59.35,-2.92),(59.8,-2.78),(60.2,-3.03),(60.45,-2.65),(60.75,-2.73),(61.0,-2.82),(61.25,-3.08),(61.55,-3.15),(62.0,-2.71),(62.3,-2.92),(62.65,-2.72),(62.9,-3.21),(63.3,-2.98),(63.7,-2.53),(63.95,-3.02),(64.3,-3.21),(64.6,-3.28),(65.1,-3.28),(65.5,-3.31),(65.7,-3.21),(66.0,-2.92),(66.4,-3.12),(66.7,-3.31),(67.0,-3.15),(67.3,-3.02),(67.55,-2.75),(67.9,-2.82),(68.2,-2.92),(68.4,-2.82),(68.7,-2.65),(68.95,-2.95),(69.25,-2.83),(69.6,-3.25),(69.8,-3.15),(70.1,-3.12),(70.4,-3.12),(70.65,-3.33),(70.9,-2.98),(71.2,-2.8),(71.45,-2.98),(71.6,-2.76),(71.8,-3.05),(71.9,-2.97)]

P5_BLUE = [(0,-3.73),(0.15,-3.48),(0.35,-3.4),(0.45,-3.1),(0.6,-2.72),(0.7,-2.85),(0.8,-2.8),(0.95,-2.85),(1.05,-2.6),(1.15,-2.36),(1.25,-2.45),(1.4,-2.75),(1.5,-2.6),(1.6,-2.75),(1.75,-2.6),(1.9,-2.85),(2.05,-2.75),(2.25,-2.85),(2.35,-2.95),(2.5,-3.0),(2.65,-2.8),(2.8,-2.6),(2.95,-2.95),(3.1,-3.1),(3.3,-3.32),(3.5,-3.05),(3.7,-3.3),(3.9,-3.3),(4.1,-3.2),(4.3,-3.1),(4.5,-3.05),(4.7,-3.2),(4.9,-3.3),(5.1,-3.3),(5.25,-3.2),(5.45,-3.07),(5.65,-3.1),(5.85,-3.25),(6.0,-3.3),(6.25,-3.38),(6.5,-3.3),(6.7,-3.1),(6.9,-3.3),(7.1,-3.3),(7.25,-3.05),(7.45,-3.1),(7.65,-3.1),(7.85,-2.95),(8.05,-3.0),(8.3,-2.95),(8.5,-2.68),(8.7,-2.75),(8.9,-2.9),(9.1,-2.64),(9.3,-2.8),(9.5,-2.8),(9.65,-2.75),(9.85,-2.9),(10.05,-2.75),(10.25,-2.95),(10.5,-2.7),(10.7,-2.7),(10.9,-2.85),(11.1,-2.75),(11.3,-2.85),(11.6,-3.04),(11.8,-2.8),(12.0,-2.7),(12.3,-2.75),(12.45,-2.5),(12.7,-2.8),(12.9,-2.75),(13.15,-3.0),(13.4,-2.8),(13.65,-2.55),(13.85,-2.26),(14.2,-2.25),(14.5,-2.35),(14.75,-2.4),(15.0,-2.6),(15.3,-2.5),(15.6,-2.25),(15.85,-2.25),(16.05,-2.0),(16.25,-1.97),(16.55,-2.25),(16.8,-2.3),(17.1,-2.5),(17.35,-2.55),(17.65,-2.2),(17.85,-1.95),(18.05,-1.95),(18.25,-1.74),(18.45,-1.69),(18.7,-1.75),(18.9,-1.85),(19.15,-2.0),(19.45,-2.2),(19.7,-2.5),(19.9,-2.75),(20.1,-2.9),(20.25,-2.4),(20.4,-2.2),(20.65,-2.15),(20.95,-2.3),(21.2,-2.45),(21.5,-2.1),(21.7,-2.25),(21.9,-2.5),(22.15,-2.7),(22.4,-2.5),(22.65,-2.25),(22.95,-2.15),(23.15,-2.15),(23.5,-2.2),(23.7,-2.15),(24.0,-2.4),(24.25,-2.5),(24.5,-2.7),(24.8,-2.82),(25.05,-2.6),(25.35,-2.5),(25.6,-2.3),(25.9,-2.3),(26.2,-2.07),(26.45,-2.15),(26.7,-2.25),(26.85,-2.45),(27.15,-2.16),(27.4,-2.45),(27.6,-2.6),(27.9,-2.65),(28.25,-2.75),(28.45,-2.95),(28.6,-3.1),(28.8,-3.05),(29.0,-2.8),(29.2,-2.65),(29.5,-2.85),(29.7,-2.95),(29.9,-2.75),(30.1,-2.65),(30.3,-2.75),(30.5,-3.0),(30.75,-2.95),(31.0,-2.75),(31.25,-2.85),(31.45,-2.54),(31.65,-2.85),(31.95,-3.24),(32.2,-3.0),(32.5,-2.8),(32.7,-2.7),(32.9,-3.0),(33.1,-3.1),(33.35,-2.62),(33.45,-2.65),(33.65,-3.0),(33.85,-3.27),(34.1,-3.05),(34.4,-2.85),(34.7,-2.7),(34.9,-2.65),(35.1,-2.85),(35.35,-3.2),(35.5,-3.25),(35.6,-2.75),(35.7,-2.84),(36.0,-2.85),(36.2,-2.7),(36.4,-2.58),(36.65,-2.75),(36.85,-2.95),(37.1,-2.8),(37.35,-2.7),(37.5,-2.6),(37.8,-2.19),(38.0,-2.25),(38.2,-2.6),(38.35,-2.75),(38.6,-2.85),(38.9,-2.6),(39.1,-2.37),(39.3,-2.5),(39.5,-2.7),(39.7,-2.8),(39.9,-2.8),(40.15,-2.4),(40.35,-2.55),(40.55,-2.45),(40.7,-2.33),(40.9,-2.6),(41.2,-3.0),(41.35,-2.7),(41.55,-2.75),(41.8,-2.39),(42.0,-2.45),(42.2,-2.85),(42.4,-3.05),(42.6,-3.18),(42.8,-2.6),(42.95,-2.4),(43.15,-2.24),(43.35,-2.5),(43.55,-2.75),(43.75,-2.75),(43.9,-2.5),(44.1,-2.35),(44.3,-2.21),(44.5,-2.45),(44.7,-2.8),(44.95,-2.95),(45.15,-2.75),(45.4,-2.14),(45.6,-2.4),(45.8,-2.8),(45.95,-2.95),(46.15,-2.6),(46.35,-2.4),(46.55,-2.16),(46.75,-2.4),(46.95,-2.75),(47.1,-3.05),(47.3,-2.85),(47.5,-2.7),(47.65,-2.3),(47.85,-2.35),(48.05,-2.5),(48.2,-2.74),(48.4,-2.45),(48.6,-2.07),(48.8,-2.3),(49.0,-2.6),(49.25,-2.65),(49.5,-2.55),(49.75,-2.27),(49.95,-2.35),(50.15,-2.45),(50.3,-2.6),(50.5,-2.8),(50.7,-2.95),(50.9,-2.75),(51.05,-2.4),(51.3,-2.3),(51.55,-2.35),(51.75,-2.5),(51.95,-2.89),(52.2,-2.6),(52.4,-2.45),(52.55,-2.3),(52.8,-2.3),(53.0,-2.45),(53.2,-2.7),(53.45,-2.4),(53.7,-2.25),(53.9,-2.11),(54.1,-2.35),(54.3,-2.45),(54.5,-2.7),(54.65,-2.35),(54.85,-1.96),(55.05,-2.15),(55.25,-2.35),(55.45,-2.64),(55.65,-2.4),(55.8,-2.3),(56.0,-2.1),(56.2,-2.3),(56.4,-2.5),(56.6,-2.85),(56.8,-3.09),(57.05,-2.65),(57.2,-2.35),(57.35,-2.3),(57.55,-2.6),(57.7,-2.95),(57.9,-2.75),(58.1,-2.55),(58.3,-2.35),(58.5,-2.3),(58.7,-2.35),(58.9,-2.45),(59.1,-2.6),(59.3,-2.6),(59.45,-2.35),(59.65,-2.17),(59.85,-2.3),(60.1,-2.4),(60.35,-2.5),(60.6,-2.35),(60.85,-2.3),(61.05,-2.4),(61.25,-2.5),(61.45,-2.75),(61.65,-2.5),(61.9,-2.15),(62.1,-2.35),(62.3,-2.55),(62.5,-2.75),(62.65,-3.02),(62.85,-2.6),(63.05,-2.35),(63.15,-2.25),(63.4,-2.4),(63.55,-2.65),(63.75,-2.45),(63.95,-2.35),(64.15,-2.25),(64.3,-2.3),(64.5,-2.5),(64.75,-2.55),(64.95,-2.5),(65.2,-2.24),(65.45,-2.3),(65.7,-2.5),(65.9,-2.65),(66.15,-2.5),(66.35,-2.3),(66.5,-2.3),(66.7,-2.45),(66.9,-2.75),(67.1,-3.09),(67.3,-2.55),(67.55,-2.45),(67.7,-2.3),(67.85,-2.45),(68.05,-2.85),(68.25,-2.55),(68.5,-2.35),(68.75,-2.16),(68.95,-2.35),(69.15,-2.65),(69.35,-2.45),(69.6,-2.55),(69.8,-2.22),(69.95,-2.35),(70.15,-2.5),(70.35,-2.69),(70.6,-2.45),(70.8,-2.16),(71.0,-2.35),(71.2,-2.55),(71.4,-2.9),(71.5,-2.99),(71.7,-2.45),(71.9,-2.18)]

P5_RED = [(0,-3.73),(0.15,-3.48),(0.35,-3.4),(0.45,-3.1),(0.6,-2.72),(0.7,-2.85),(0.8,-2.8),(0.95,-2.85),(1.05,-2.6),(1.15,-2.36),(1.25,-2.45),(1.4,-2.75),(1.5,-2.6),(1.6,-2.75),(1.75,-2.6),(1.9,-2.85),(2.05,-2.75),(2.25,-2.85),(2.35,-2.95),(2.5,-3.0),(2.65,-2.8),(2.8,-2.6),(2.95,-2.95),(3.1,-3.1),(3.3,-3.32),(3.5,-3.05),(3.7,-3.3),(3.9,-3.3),(4.1,-3.2),(4.3,-3.05),(4.5,-3.05),(4.7,-3.2),(4.9,-3.33),(5.1,-3.3),(5.25,-3.2),(5.45,-3.05),(5.65,-3.1),(5.85,-3.25),(6.0,-3.3),(6.25,-3.36),(6.5,-2.82),(6.7,-3.2),(6.9,-3.05),(7.1,-3.05),(7.3,-2.72),(7.45,-2.85),(7.65,-2.75),(7.85,-2.55),(8.05,-2.6),(8.3,-2.42),(8.5,-2.95),(8.7,-3.17),(8.9,-2.9),(9.1,-2.6),(9.35,-2.35),(9.5,-2.3),(9.7,-2.3),(9.95,-2.6),(10.2,-2.65),(10.45,-2.85),(10.7,-2.55),(11.05,-2.24),(11.25,-2.75),(11.45,-2.85),(11.65,-2.55),(11.85,-2.6),(12.05,-2.55),(12.3,-2.19),(12.55,-2.3),(12.75,-2.5),(12.95,-2.8),(13.15,-2.3),(13.4,-2.2),(13.6,-2.01),(13.8,-2.45),(14.05,-2.55),(14.3,-2.85),(14.5,-3.05),(14.6,-2.5),(14.8,-2.5),(15.0,-2.75),(15.2,-2.55),(15.45,-2.3),(15.65,-2.2),(15.85,-2.3),(16.05,-2.55),(16.25,-2.4),(16.5,-2.55),(16.7,-2.4),(16.85,-2.85),(17.05,-2.5),(17.2,-3.01),(17.35,-2.6),(17.55,-2.3),(17.7,-2.09),(17.9,-2.5),(18.05,-2.65),(18.25,-2.7),(18.45,-2.15),(18.7,-2.1),(18.8,-1.89),(18.95,-2.2),(19.15,-2.5),(19.35,-2.2),(19.55,-2.45),(19.75,-2.6),(19.9,-2.0),(20.1,-2.25),(20.3,-2.2),(20.45,-3.05),(20.6,-3.27),(20.8,-2.55),(21.0,-2.5),(21.2,-2.4),(21.45,-2.5),(21.6,-2.84),(21.8,-2.5),(22.05,-2.3),(22.25,-2.1),(22.4,-1.83),(22.55,-2.2),(22.75,-2.2),(22.95,-1.86),(23.15,-2.15),(23.35,-2.25),(23.55,-2.35),(23.75,-2.6),(24.0,-2.3),(24.25,-2.35),(24.5,-2.4),(24.75,-2.5),(25.0,-2.3),(25.2,-2.35),(25.5,-2.4),(25.75,-2.55),(26.05,-2.8),(26.25,-2.55),(26.45,-2.7),(26.7,-2.85),(26.95,-2.75),(27.15,-2.2),(27.35,-1.91),(27.55,-2.05),(27.75,-2.3),(27.95,-2.45),(28.25,-2.65),(28.5,-2.75),(28.8,-2.85),(29.05,-2.35),(29.25,-2.3),(29.5,-2.45),(29.75,-2.4),(29.95,-2.35),(30.15,-2.6),(30.35,-2.95),(30.5,-2.8),(30.8,-2.75),(31.0,-2.85),(31.2,-2.6),(31.4,-2.44),(31.65,-2.55),(31.8,-2.75),(32.1,-3.0),(32.3,-2.75),(32.5,-2.5),(32.7,-2.65),(32.9,-2.9),(33.2,-3.15),(33.4,-2.95),(33.6,-2.9),(33.85,-3.1),(34.1,-2.75),(34.35,-2.6),(34.55,-2.43),(34.8,-2.55),(35.1,-2.65),(35.3,-2.95),(35.5,-2.75),(35.8,-2.6),(36.0,-2.6),(36.15,-2.54),(36.4,-2.44),(36.6,-2.55),(36.8,-2.8),(36.95,-2.8),(37.15,-2.8),(37.35,-2.4),(37.6,-2.35),(37.8,-2.35),(38.0,-2.5),(38.25,-2.7),(38.45,-2.95),(38.7,-2.8),(38.95,-2.45),(39.2,-2.35),(39.45,-2.45),(39.65,-2.75),(39.8,-3.05),(39.95,-3.2),(40.15,-2.65),(40.4,-2.75),(40.6,-2.35),(40.75,-2.18),(40.9,-2.45),(41.1,-2.55),(41.3,-2.45),(41.5,-2.8),(41.7,-2.5),(41.8,-2.25),(42.0,-2.4),(42.2,-2.65),(42.4,-2.7),(42.55,-2.9),(42.75,-2.5),(42.9,-2.35),(43.05,-2.2),(43.25,-2.3),(43.45,-2.5),(43.6,-2.7),(43.8,-2.45),(44.0,-2.55),(44.25,-2.3),(44.45,-2.1),(44.7,-2.45),(44.9,-2.45),(45.1,-2.45),(45.25,-2.6),(45.45,-2.1),(45.65,-2.3),(45.85,-2.55),(46.05,-2.75),(46.2,-2.65),(46.4,-2.45),(46.6,-2.15),(46.8,-2.35),(46.95,-2.5),(47.2,-2.6),(47.4,-2.45),(47.6,-2.35),(47.75,-2.35),(47.9,-2.02),(48.1,-2.35),(48.25,-2.55),(48.45,-2.55),(48.65,-2.35),(48.85,-2.35),(49.0,-2.55),(49.25,-2.5),(49.5,-2.55),(49.75,-2.8),(49.9,-2.45),(50.15,-2.3),(50.35,-2.45),(50.5,-2.6),(50.75,-2.6),(51.0,-2.55),(51.3,-2.24),(51.55,-2.35),(51.75,-2.35),(51.95,-2.6),(52.15,-2.45),(52.4,-2.35),(52.6,-2.25),(52.8,-2.3),(53.0,-2.4),(53.2,-2.55),(53.35,-2.35),(53.5,-2.01),(53.7,-2.3),(53.9,-2.1),(54.1,-2.1),(54.3,-2.4),(54.5,-2.5),(54.65,-2.2),(54.8,-1.91),(55.0,-2.1),(55.15,-2.3),(55.35,-2.5),(55.55,-2.45),(55.75,-2.3),(56.0,-2.05),(56.2,-2.3),(56.4,-2.5),(56.6,-2.6),(56.85,-2.82),(57.05,-2.45),(57.3,-2.16),(57.45,-2.5),(57.6,-2.8),(57.8,-3.12),(58.0,-2.55),(58.2,-2.6),(58.4,-2.35),(58.6,-2.35),(58.75,-2.4),(58.95,-2.55),(59.15,-3.0),(59.35,-2.45),(59.6,-2.3),(59.85,-2.4),(60.05,-2.3),(60.3,-2.45),(60.5,-2.12),(60.7,-2.4),(60.9,-2.15),(61.05,-2.35),(61.25,-2.45),(61.45,-2.6),(61.65,-2.4),(62.0,-2.08),(62.15,-2.3),(62.35,-2.45),(62.55,-2.65),(62.75,-2.45),(63.0,-2.3),(63.15,-2.15),(63.4,-2.4),(63.6,-2.5),(63.8,-2.35),(64.0,-2.35),(64.2,-2.3),(64.35,-2.3),(64.6,-2.45),(64.75,-2.55),(64.95,-2.5),(65.15,-2.4),(65.4,-2.5),(65.6,-2.45),(65.85,-2.55),(66.05,-2.5),(66.2,-2.6),(66.5,-2.4),(66.75,-2.55),(66.9,-2.8),(67.1,-2.6),(67.3,-2.45),(67.5,-2.3),(67.7,-2.06),(67.9,-2.35),(68.1,-2.45),(68.3,-2.45),(68.5,-2.25),(68.7,-1.96),(68.9,-2.1),(69.1,-2.45),(69.3,-2.4),(69.5,-2.45),(69.75,-2.3),(69.95,-2.3),(70.1,-2.3),(70.3,-2.5),(70.5,-2.55),(70.75,-2.35),(70.9,-2.45),(71.1,-2.3),(71.3,-2.35),(71.5,-2.65),(71.6,-2.5),(71.75,-2.3),(71.9,-2.2)]

P6_BLUE = [(0,-1.84),(0.1,-1.83),(0.2,-1.95),(0.3,-2.05),(0.4,-2.11),(0.5,-2.0),(0.65,-1.99),(0.75,-2.05),(0.9,-2.0),(1.0,-1.88),(1.1,-1.9),(1.25,-1.95),(1.4,-2.05),(1.55,-2.0),(1.7,-2.05),(1.8,-1.98),(1.95,-2.07),(2.1,-2.0),(2.25,-2.05),(2.35,-2.0),(2.5,-2.08),(2.65,-2.0),(2.8,-2.05),(3.0,-2.08),(3.15,-2.09),(3.25,-2.05),(3.35,-1.85),(3.45,-1.71),(3.6,-1.7),(3.8,-1.65),(4.0,-1.63),(4.2,-1.63),(4.4,-1.6),(4.55,-1.55),(4.75,-1.45),(4.9,-1.34),(5.1,-1.45),(5.3,-1.52),(5.5,-1.55),(5.75,-1.6),(6.0,-1.62),(6.3,-1.6),(6.5,-1.55),(6.75,-1.55),(6.95,-1.52),(7.1,-1.6),(7.3,-1.52),(7.5,-1.55),(7.75,-1.46),(7.95,-1.57),(8.15,-1.57),(8.35,-1.55),(8.55,-1.57),(8.8,-1.57),(9.0,-1.5),(9.1,-1.45),(9.3,-1.43),(9.45,-1.52),(9.65,-1.67),(9.85,-1.62),(10.05,-1.55),(10.25,-1.52),(10.5,-1.53),(10.7,-1.55),(10.9,-1.52),(11.1,-1.5),(11.3,-1.55),(11.5,-1.6),(11.7,-1.55),(11.9,-1.53),(12.15,-1.55),(12.4,-1.46),(12.65,-1.5),(12.9,-1.6),(13.15,-1.66),(13.4,-1.55),(13.55,-1.5),(13.8,-1.42),(14.0,-1.5),(14.2,-1.6),(14.4,-1.63),(14.6,-1.6),(14.8,-1.53),(15.05,-1.5),(15.2,-1.52),(15.45,-1.48),(15.65,-1.47),(15.9,-1.48),(16.15,-1.52),(16.4,-1.57),(16.7,-1.65),(16.85,-1.75),(17.05,-1.79),(17.25,-1.72),(17.45,-1.6),(17.7,-1.49),(17.9,-1.52),(18.1,-1.6),(18.35,-1.55),(18.5,-1.44),(18.75,-1.6),(18.95,-1.65),(19.2,-1.63),(19.45,-1.56),(19.6,-1.62),(19.85,-1.65),(20.1,-1.47),(20.35,-1.62),(20.55,-1.68),(20.75,-1.72),(21.0,-1.82),(21.2,-1.7),(21.45,-1.8),(21.7,-1.82),(21.95,-1.83),(22.15,-1.83),(22.3,-1.72),(22.5,-1.59),(22.75,-1.6),(22.95,-1.63),(23.2,-1.72),(23.5,-1.75),(23.75,-1.78),(24.0,-1.8),(24.2,-1.75),(24.35,-1.7),(24.5,-1.8),(24.65,-1.9),(24.85,-1.93),(25.1,-1.85),(25.2,-1.7),(25.4,-1.5),(25.6,-1.6),(25.8,-1.7),(25.95,-1.57),(26.15,-1.65),(26.4,-1.78),(26.6,-1.82),(26.85,-1.75),(27.1,-1.67),(27.35,-1.75),(27.55,-1.8),(27.75,-1.85),(27.95,-1.8),(28.15,-1.87),(28.35,-1.88),(28.55,-1.92),(28.8,-1.88),(29.0,-1.87),(29.15,-1.8),(29.35,-1.87),(29.55,-1.92),(29.75,-1.88),(29.95,-1.9),(30.15,-1.95),(30.35,-2.02),(30.5,-1.95),(30.7,-1.88),(30.9,-1.87),(31.1,-1.9),(31.35,-1.77),(31.5,-1.85),(31.7,-1.95),(31.95,-2.02),(32.15,-1.95),(32.4,-1.9),(32.55,-1.95),(32.75,-2.0),(33.0,-2.0),(33.15,-1.98),(33.35,-2.02),(33.6,-2.03),(33.85,-2.06),(34.1,-2.03),(34.3,-1.95),(34.5,-1.9),(34.7,-1.875),(34.95,-1.9),(35.1,-2.0),(35.3,-2.05),(35.5,-2.04),(35.7,-1.92),(35.85,-1.9),(36.0,-1.92),(36.2,-1.81),(36.45,-1.88),(36.7,-1.97),(36.95,-1.97),(37.15,-1.97),(37.35,-1.82),(37.6,-1.71),(37.85,-1.72),(38.1,-1.82),(38.35,-1.9),(38.6,-1.93),(38.85,-1.85),(39.05,-1.59),(39.25,-1.67),(39.5,-1.82),(39.75,-1.9),(40.0,-1.96),(40.3,-1.85),(40.55,-1.75),(40.8,-1.7),(41.05,-1.85),(41.25,-1.9),(41.45,-1.83),(41.7,-1.72),(41.95,-1.8),(42.2,-1.95),(42.45,-2.04),(42.65,-1.95),(42.85,-1.8),(43.05,-1.65),(43.3,-1.7),(43.5,-1.8),(43.65,-1.9),(43.85,-1.82),(44.05,-1.72),(44.25,-1.57),(44.5,-1.72),(44.7,-1.85),(44.9,-1.9),(45.15,-1.8),(45.4,-1.56),(45.65,-1.72),(45.85,-1.88),(46.05,-1.88),(46.3,-1.75),(46.5,-1.59),(46.75,-1.75),(46.95,-1.85),(47.2,-1.9),(47.4,-1.75),(47.6,-1.57),(47.85,-1.7),(48.0,-1.78),(48.2,-1.88),(48.4,-1.75),(48.7,-1.6),(48.85,-1.7),(49.0,-1.8),(49.25,-1.85),(49.4,-1.92),(49.6,-1.8),(49.75,-1.62),(50.0,-1.7),(50.2,-1.75),(50.4,-1.8),(50.65,-1.9),(50.8,-1.8),(51.0,-1.7),(51.25,-1.63),(51.4,-1.65),(51.6,-1.75),(51.8,-1.8),(51.95,-1.85),(52.15,-1.75),(52.35,-1.78),(52.55,-1.62),(52.8,-1.72),(53.0,-1.77),(53.2,-1.83),(53.3,-1.75),(53.5,-1.68),(53.7,-1.67),(53.85,-1.53),(54.05,-1.65),(54.2,-1.7),(54.45,-1.78),(54.6,-1.7),(54.8,-1.6),(54.9,-1.51),(55.1,-1.65),(55.3,-1.78),(55.5,-1.8),(55.7,-1.75),(55.9,-1.56),(56.15,-1.65),(56.4,-1.75),(56.6,-1.88),(56.8,-1.93),(57.05,-1.85),(57.25,-1.72),(57.4,-1.72),(57.6,-1.78),(57.8,-1.88),(58.0,-1.85),(58.25,-1.72),(58.45,-1.67),(58.65,-1.65),(58.8,-1.7),(59.0,-1.75),(59.2,-1.8),(59.4,-1.65),(59.55,-1.6),(59.7,-1.65),(59.9,-1.7),(60.2,-1.75),(60.45,-1.75),(60.6,-1.72),(60.85,-1.62),(61.05,-1.7),(61.3,-1.77),(61.55,-1.86),(61.75,-1.75),(62.0,-1.62),(62.2,-1.7),(62.4,-1.8),(62.65,-1.94),(62.85,-1.8),(63.05,-1.57),(63.25,-1.65),(63.45,-1.72),(63.65,-1.88),(63.8,-1.78),(64.05,-1.58),(64.25,-1.7),(64.45,-1.75),(64.7,-1.84),(64.95,-1.75),(65.15,-1.62),(65.35,-1.7),(65.55,-1.75),(65.7,-1.85),(65.9,-1.85),(66.1,-1.75),(66.3,-1.7),(66.5,-1.67),(66.65,-1.75),(67.0,-1.92),(67.2,-1.75),(67.4,-1.7),(67.65,-1.67),(67.85,-1.75),(68.1,-1.9),(68.3,-1.75),(68.5,-1.59),(68.7,-1.65),(68.9,-1.7),(69.05,-1.78),(69.2,-1.85),(69.4,-1.82),(69.6,-1.63),(69.8,-1.7),(69.95,-1.75),(70.2,-1.82),(70.4,-1.75),(70.6,-1.7),(70.8,-1.59),(71.0,-1.72),(71.2,-1.78),(71.5,-1.91),(71.7,-1.75),(71.9,-1.53)]

P6_RED = [(0,-1.68),(0.1,-1.7),(0.2,-1.85),(0.35,-1.97),(0.45,-1.9),(0.6,-1.92),(0.7,-1.93),(0.85,-1.92),(1.0,-1.85),(1.15,-1.82),(1.25,-1.88),(1.45,-1.93),(1.6,-1.92),(1.8,-1.97),(2.0,-1.92),(2.2,-1.95),(2.35,-1.93),(2.55,-1.97),(2.8,-1.93),(3.0,-1.97),(3.15,-1.98),(3.35,-1.8),(3.45,-1.64),(3.65,-1.63),(3.9,-1.6),(4.1,-1.57),(4.3,-1.55),(4.5,-1.45),(4.7,-1.4),(4.9,-1.32),(5.1,-1.4),(5.3,-1.45),(5.55,-1.52),(5.8,-1.57),(6.0,-1.55),(6.25,-1.52),(6.5,-1.47),(6.75,-1.47),(6.95,-1.45),(7.2,-1.47),(7.4,-1.47),(7.6,-1.48),(7.8,-1.52),(8.0,-1.53),(8.2,-1.5),(8.4,-1.5),(8.6,-1.47),(8.85,-1.45),(9.0,-1.4),(9.2,-1.32),(9.45,-1.4),(9.65,-1.47),(9.9,-1.5),(10.05,-1.47),(10.3,-1.45),(10.5,-1.47),(10.75,-1.5),(11.05,-1.55),(11.2,-1.58),(11.45,-1.6),(11.65,-1.53),(11.85,-1.52),(12.1,-1.5),(12.3,-1.45),(12.4,-1.38),(12.65,-1.45),(12.85,-1.55),(13.05,-1.6),(13.25,-1.63),(13.45,-1.55),(13.65,-1.45),(13.85,-1.45),(14.05,-1.52),(14.3,-1.63),(14.5,-1.63),(14.65,-1.58),(14.9,-1.53),(15.1,-1.55),(15.3,-1.62),(15.5,-1.6),(15.7,-1.68),(15.95,-1.7),(16.2,-1.7),(16.5,-1.75),(16.75,-1.75),(17.05,-1.85),(17.25,-1.86),(17.45,-1.83),(17.7,-1.8),(17.95,-1.83),(18.15,-1.83),(18.35,-1.86),(18.55,-1.67),(18.75,-1.72),(18.95,-1.7),(19.15,-1.72),(19.35,-1.7),(19.55,-1.8),(19.75,-1.87),(19.95,-1.85),(20.2,-1.73),(20.35,-1.8),(20.6,-1.875),(20.8,-1.85),(21.0,-1.78),(21.2,-1.83),(21.5,-1.85),(21.7,-1.87),(21.95,-1.85),(22.15,-1.83),(22.4,-1.72),(22.6,-1.77),(22.8,-1.8),(23.0,-1.78),(23.2,-1.8),(23.4,-1.78),(23.65,-1.75),(23.85,-1.8),(24.05,-1.78),(24.25,-1.72),(24.5,-1.82),(24.65,-1.87),(24.85,-1.9),(25.1,-1.87),(25.3,-1.7),(25.45,-1.625),(25.6,-1.65),(25.8,-1.72),(26.05,-1.72),(26.25,-1.78),(26.45,-1.83),(26.7,-1.85),(26.9,-1.87),(27.1,-1.8),(27.3,-1.75),(27.5,-1.72),(27.7,-1.68),(27.9,-1.77),(28.1,-1.85),(28.3,-1.87),(28.5,-1.87),(28.7,-1.88),(28.95,-1.82),(29.15,-1.8),(29.35,-1.78),(29.55,-1.8),(29.75,-1.78),(29.95,-1.85),(30.15,-1.92),(30.35,-1.88),(30.55,-1.88),(30.75,-1.9),(31.0,-1.85),(31.2,-1.85),(31.35,-1.75),(31.55,-1.82),(31.75,-1.87),(31.95,-1.93),(32.15,-1.88),(32.4,-1.82),(32.6,-1.83),(32.8,-1.87),(33.05,-1.9),(33.3,-1.9),(33.6,-1.9),(33.8,-1.93),(34.0,-1.95),(34.3,-1.93),(34.5,-1.85),(34.65,-1.77),(34.85,-1.8),(35.05,-1.85),(35.25,-1.9),(35.5,-1.95),(35.7,-1.9),(35.85,-1.83),(35.95,-1.77),(36.2,-1.73),(36.45,-1.78),(36.7,-1.85),(36.95,-1.85),(37.2,-1.9),(37.4,-1.75),(37.65,-1.63),(37.9,-1.72),(38.15,-1.78),(38.4,-1.85),(38.7,-1.88),(38.95,-1.8),(39.15,-1.6),(39.4,-1.65),(39.65,-1.75),(39.9,-1.85),(40.1,-1.85),(40.35,-1.72),(40.55,-1.7),(40.75,-1.63),(41.0,-1.75),(41.2,-1.8),(41.45,-1.8),(41.7,-1.67),(41.95,-1.7),(42.3,-1.8),(42.55,-1.85),(42.8,-1.72),(43.1,-1.6),(43.35,-1.65),(43.6,-1.75),(43.8,-1.75),(44.0,-1.7),(44.35,-1.6),(44.6,-1.68),(44.8,-1.75),(45.05,-1.75),(45.25,-1.65),(45.5,-1.6),(45.8,-1.72),(46.05,-1.75),(46.3,-1.7),(46.5,-1.55),(46.75,-1.65),(47.0,-1.75),(47.2,-1.72),(47.4,-1.62),(47.6,-1.57),(47.85,-1.63),(48.0,-1.65),(48.2,-1.72),(48.45,-1.65),(48.7,-1.6),(48.9,-1.7),(49.15,-1.72),(49.4,-1.7),(49.6,-1.7),(49.8,-1.65),(50.05,-1.62),(50.25,-1.68),(50.5,-1.75),(50.7,-1.78),(50.9,-1.7),(51.15,-1.65),(51.4,-1.65),(51.65,-1.7),(51.9,-1.72),(52.15,-1.67),(52.35,-1.65),(52.55,-1.56),(52.8,-1.6),(53.05,-1.68),(53.25,-1.63),(53.5,-1.58),(53.7,-1.49),(53.9,-1.55),(54.1,-1.62),(54.3,-1.65),(54.45,-1.6),(54.65,-1.53),(54.8,-1.42),(55.0,-1.52),(55.15,-1.65),(55.35,-1.67),(55.65,-1.67),(55.9,-1.53),(56.15,-1.6),(56.4,-1.68),(56.6,-1.75),(56.8,-1.85),(57.05,-1.7),(57.25,-1.63),(57.45,-1.67),(57.65,-1.75),(57.85,-1.82),(58.1,-1.75),(58.35,-1.67),(58.65,-1.63),(58.8,-1.68),(59.05,-1.81),(59.35,-1.7),(59.55,-1.6),(59.75,-1.63),(60.0,-1.68),(60.25,-1.68),(60.45,-1.65),(60.6,-1.6),(60.85,-1.5),(61.05,-1.6),(61.3,-1.65),(61.55,-1.75),(61.75,-1.65),(62.0,-1.54),(62.2,-1.6),(62.4,-1.7),(62.6,-1.83),(62.85,-1.65),(63.1,-1.53),(63.3,-1.6),(63.5,-1.7),(63.7,-1.75),(63.9,-1.65),(64.15,-1.53),(64.35,-1.6),(64.6,-1.7),(64.85,-1.75),(65.05,-1.65),(65.25,-1.55),(65.45,-1.65),(65.7,-1.7),(65.9,-1.75),(66.15,-1.7),(66.4,-1.67),(66.65,-1.65),(66.85,-1.7),(67.0,-1.8),(67.25,-1.67),(67.45,-1.6),(67.7,-1.55),(67.85,-1.65),(68.1,-1.75),(68.3,-1.65),(68.55,-1.53),(68.75,-1.55),(69.0,-1.7),(69.3,-1.75),(69.45,-1.7),(69.65,-1.6),(69.95,-1.67),(70.2,-1.72),(70.45,-1.75),(70.65,-1.65),(70.85,-1.55),(71.1,-1.65),(71.3,-1.72),(71.5,-1.82),(71.7,-1.7),(71.9,-1.55)]

BLUE_SERIES = [P1_BLUE, P2_BLUE, P3_BLUE, P4_BLUE, P5_BLUE, P6_BLUE]
RED_SERIES = [P1_RED, P2_RED, P3_RED, P4_RED, P5_RED, P6_RED]
BLUE_LABELS = ["0 ≤ θ < π/12", "π/12 ≤ θ < π/6", "π/6 ≤ θ < π/4",
               "π/4 ≤ θ < π/3", "π/3 ≤ θ < 5π/12", "5π/12 ≤ θ < π/2"]
RED_LABELS = ["11π/12 ≤ θ < π", "5π/6 ≤ θ < 11π/12", "π/4 ≤ θ < 5π/6",
              "2π/3 ≤ θ < 3π/4", "7π/12 ≤ θ < 2π/3", "π/2 ≤ θ < 7π/12"]
Y_RANGES = [(-5.10, -0.50), (-4.52, -0.50), (-3.80, -1.70),
            (-3.715, -1.10), (-3.89, -1.294), (-2.20, -0.80)]
Y_TICKS = [[-1.0, -2.0, -3.0, -4.0, -5.0], [-1.0, -2.0, -3.0, -4.0],
           [-2.0, -2.5, -3.0, -3.5], [-1.5, -2.0, -2.5, -3.0, -3.5],
           [-1.5, -2.0, -2.5, -3.0, -3.5], [-1.0, -1.2, -1.4, -1.6, -1.8, -2.0]]
X_TICKS = [0, 10, 20, 30, 40, 50, 60, 70]
ORB_TICKS = [0.0, 0.5, 1.0, 1.5, 2.0, 2.5, 3.0, 3.5]

# ---------------- layout constants ----------------
FRAME_W, FRAME_H = 2325, 385
LAB_W = 108
LEFT_B, RIGHT_B = 99, 40
TOP_B, BOT_B = 120, 116
OVERHANG = 18            # panel 1 canvas reaches below its frame; panel 2 overlaps it
TICK_FS, LEG_FS, AXL_FS = "40px", "32px", "55px"


def style_axis(ax, fs=TICK_FS):
    ax.major_tick_in = 10
    ax.major_tick_out = 0
    ax.minor_tick_in = 0
    ax.minor_tick_out = 0
    ax.minor_tick_line_color = None
    ax.major_tick_line_width = 2
    ax.major_tick_line_color = "black"
    ax.axis_line_color = None
    ax.major_label_text_font = FONT
    ax.major_label_text_font_size = fs
    ax.major_label_text_color = "black"
    ax.axis_label_text_font = FONT
    ax.axis_label_text_font_style = "normal"
    ax.axis_label_text_font_size = AXL_FS
    ax.axis_label_text_color = "black"


x_range = Range1d(T_LO, T_HI)
panels = []
for i in range(6):
    top_b = TOP_B if i == 0 else 0
    bot_b = BOT_B if i == 5 else (OVERHANG if i == 0 else 0)
    kw = {}
    if i == 1:
        kw["margin"] = (-OVERHANG, 0, 0, 0)
    p = figure(frame_width=FRAME_W, frame_height=FRAME_H, x_range=x_range,
               y_range=Range1d(*Y_RANGES[i]), output_backend="svg",
               toolbar_location=None, min_border_left=LEFT_B,
               min_border_right=RIGHT_B, min_border_top=top_b,
               min_border_bottom=bot_b, **kw)
    p.grid.visible = False
    p.outline_line_color = "black"
    p.outline_line_width = 2
    p.background_fill_color = "white"
    p.border_fill_color = None if i == 1 else "white"

    # y axis
    yax = p.yaxis[0]
    yax.ticker = FixedTicker(ticks=Y_TICKS[i])
    yax.formatter = PrintfTickFormatter(format="%.1f")
    style_axis(yax)
    yax.major_label_standoff = 6

    # x axis (time)
    xax = p.xaxis[0]
    xax.ticker = FixedTicker(ticks=X_TICKS)
    xax.formatter = PrintfTickFormatter(format="%d")
    style_axis(xax)
    if i == 5:
        xax.major_label_standoff = 0
        xax.axis_label = "Time [h]"
        xax.axis_label_standoff = 5
    else:
        xax.major_label_text_font_size = "0px"
        xax.major_label_text_color = None
        xax.major_label_text_alpha = 0
        xax.major_label_standoff = 0

    if i == 0:
        p.extra_x_ranges = {"orb": Range1d(T_LO / PERIOD_H, T_HI / PERIOD_H)}
        top = LinearAxis(x_range_name="orb", ticker=FixedTicker(ticks=ORB_TICKS),
                         formatter=PrintfTickFormatter(format="%.1f"),
                         axis_label="Orbital Period")
        style_axis(top)
        top.major_label_standoff = 16
        top.axis_label_standoff = -8
        p.add_layout(top, "above")

    bt, by = zip(*BLUE_SERIES[i])
    rt, ry = zip(*RED_SERIES[i])
    rb = p.line(x=list(bt), y=list(by), line_color="#0000ff", line_width=2.2)
    rr = p.line(x=list(rt), y=list(ry), line_color="#ff0000", line_width=2.2,
                line_dash="10 4")

    leg = Legend(items=[LegendItem(label=BLUE_LABELS[i], renderers=[rb]),
                        LegendItem(label=RED_LABELS[i], renderers=[rr])],
                 location="top_left")
    leg.margin = 17
    leg.padding = 12
    leg.spacing = 11
    leg.label_standoff = 29
    leg.glyph_width = 71
    leg.glyph_height = 40
    leg.label_height = 40
    leg.label_text_font = FONT
    leg.label_text_font_size = LEG_FS
    leg.label_text_color = "black"
    leg.border_line_color = "#cccccc"
    leg.border_line_width = 2
    leg.background_fill_color = "white"
    leg.background_fill_alpha = 0.8
    if "border_radius" in Legend.properties():
        leg.border_radius = 6
    p.add_layout(leg)
    panels.append(p)

TOTAL_H = TOP_B + 6 * FRAME_H + BOT_B
lab = figure(width=LAB_W, height=TOTAL_H, x_range=Range1d(0, LAB_W),
             y_range=Range1d(0, TOTAL_H), output_backend="svg",
             toolbar_location=None, min_border=0,
             x_axis_location=None, y_axis_location=None)
lab.grid.visible = False
lab.outline_line_color = None
lab.text(x=[61], y=[TOTAL_H - 1272], text=["log(Mass Outflow Rate)"],
         angle=math.pi / 2, text_align="center", text_baseline="middle",
         text_font=value(FONT), text_font_size="41px", text_color="black")

layout = row(lab, column(*panels))
open("out.html", "w").write(file_html(layout, INLINE))
